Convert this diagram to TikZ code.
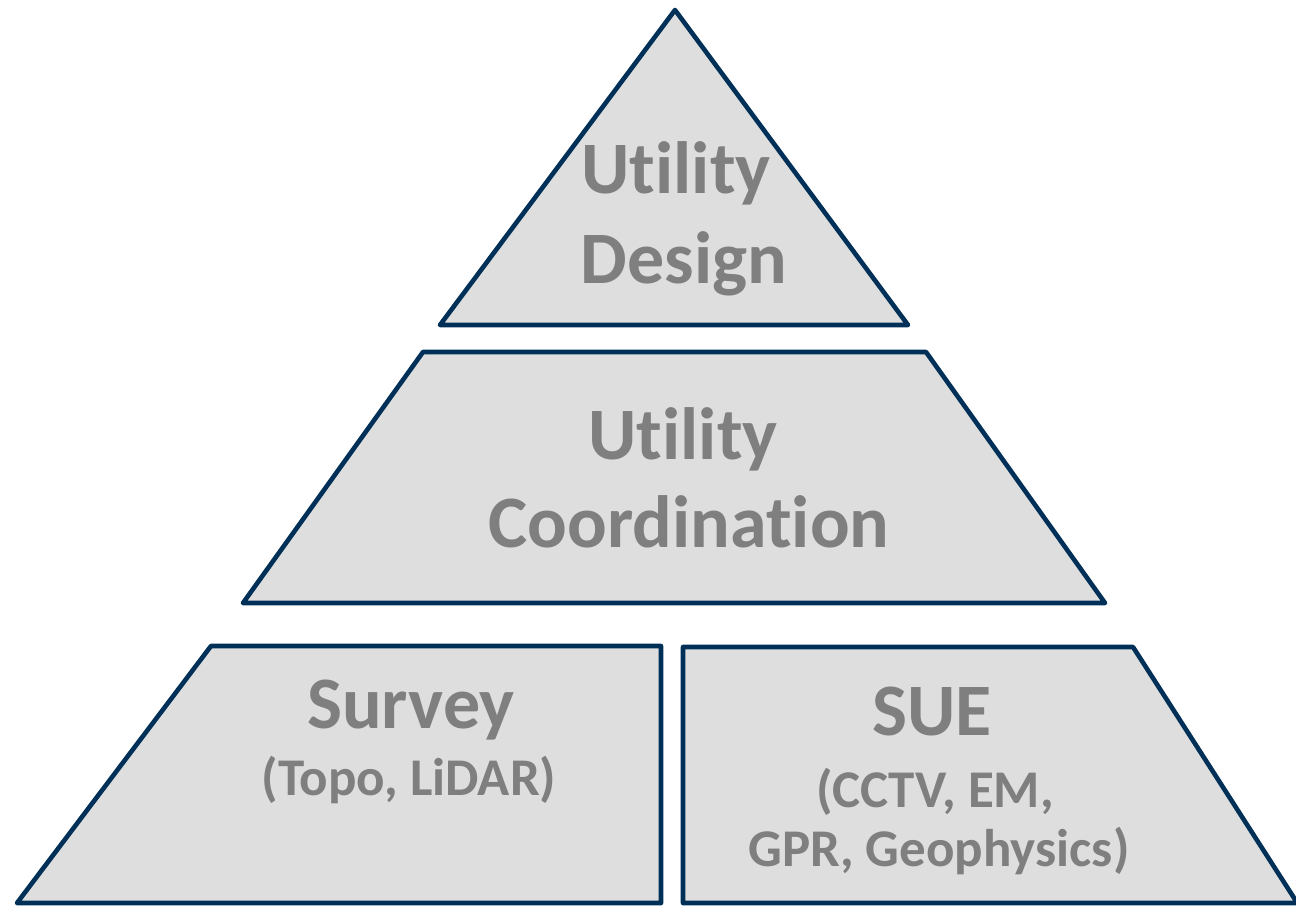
\documentclass[tikz,border=0pt]{standalone}
\usepackage{fontspec}
\setmainfont[Ligatures=NoCommon]{Carlito}
\definecolor{edgeblue}{RGB}{0,48,87}
\definecolor{tierfill}{RGB}{222,222,222}
\definecolor{labelgray}{RGB}{127,127,127}
\begin{document}
\begin{tikzpicture}[x=1pt,y=-1pt,
  tier/.style={draw=edgeblue,fill=tierfill,line width=4.6pt,line join=round},
  bigtext/.style={anchor=base,text=labelgray,inner sep=0pt,font=\fontsize{74}{74}\selectfont\bfseries},
  smalltext/.style={anchor=base,text=labelgray,inner sep=0pt,font=\fontsize{53}{53}\selectfont\bfseries}]
\useasboundingbox (0,0) rectangle (1296,906);
% pyramid tiers
\draw[tier] (675,10) -- (908,325) -- (440,325) -- cycle;
\draw[tier] (423,352) -- (926,352) -- (1105,603) -- (243,603) -- cycle;
\draw[tier] (211,646) -- (661,646) -- (661,903) -- (17,903) -- cycle;
\draw[tier] (683,647) -- (1133,647) -- (1305,915) -- (1305,903) -- (683,903) -- cycle;
% labels
\node[bigtext] (top1) at (676,193) {Utility};
\node[bigtext] (top2) at (684,283) {Design};
\node[bigtext] (mid1) at (683,459) {Utility};
\node[bigtext] (mid2) at (689,547) {Coordination};
\node[bigtext] (sv1) at (411,728) {Survey};
\node[smalltext] (sv2) at (409,795) {(Topo, LiDAR)};
\node[bigtext] (sue1) at (932,735) {SUE};
\node[smalltext] (sue2) at (935,807) {(CCTV, EM,};
\node[smalltext] (sue3) at (939,866) {GPR, Geophysics)};
\end{tikzpicture}
\end{document}
